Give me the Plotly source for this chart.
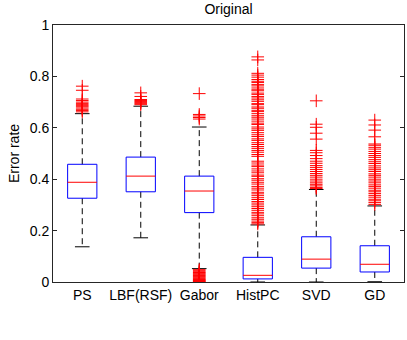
import plotly.graph_objects as go

LABELS = ["PS", "LBF(RSF)", "Gabor", "HistPC", "SVD", "GD"]
Q1 = [0.326, 0.351, 0.270, 0.012, 0.054, 0.039]
MEDIAN = [0.388, 0.412, 0.354, 0.026, 0.089, 0.069]
Q3 = [0.458, 0.486, 0.412, 0.096, 0.176, 0.141]
LOWER = [0.137, 0.172, 0.052, 0.0, 0.0, 0.001]
UPPER = [0.655, 0.684, 0.603, 0.222, 0.360, 0.296]

OUT_PS = [0.762, 0.746, 0.712, 0.706, 0.700, 0.695, 0.690, 0.686, 0.682, 0.677, 0.672, 0.667, 0.662]
OUT_LBF = [0.736, 0.722, 0.710, 0.706, 0.702, 0.698, 0.694, 0.690]
OUT_GABOR = [0.733, 0.652, 0.646, 0.640, 0.634,
             0.048, 0.044, 0.040, 0.037, 0.034, 0.031, 0.028, 0.025, 0.022,
             0.019, 0.016, 0.013, 0.010, 0.008, 0.006, 0.004, 0.002, 0.0]
OUT_HISTPC = [0.876, 0.864, 0.812, 0.805, 0.797, 0.788, 0.781, 0.776, 0.768, 0.763,
              0.755, 0.748, 0.744, 0.735, 0.730, 0.722, 0.716, 0.709, 0.703, 0.694,
              0.690, 0.681, 0.676, 0.668, 0.663, 0.655, 0.647, 0.641, 0.634, 0.626,
              0.618, 0.613, 0.603, 0.596, 0.590, 0.581, 0.573, 0.566, 0.557, 0.551,
              0.542, 0.535, 0.527, 0.520, 0.512, 0.505, 0.496, 0.489, 0.470, 0.463,
              0.455, 0.449, 0.440, 0.432, 0.425, 0.416, 0.411, 0.402, 0.396, 0.388,
              0.381, 0.372, 0.365, 0.358, 0.349, 0.343, 0.336, 0.328, 0.321, 0.313,
              0.307, 0.300, 0.293, 0.286, 0.279, 0.271, 0.265, 0.258, 0.250, 0.244,
              0.237, 0.231, 0.226]
OUT_SVD = [0.705, 0.614, 0.602, 0.579, 0.556, 0.512, 0.503, 0.492, 0.480, 0.470,
           0.462, 0.453, 0.446, 0.438, 0.430, 0.422, 0.415, 0.408, 0.400, 0.393,
           0.386, 0.380, 0.374, 0.368, 0.364]
OUT_GD = [0.630, 0.611, 0.591, 0.565, 0.537, 0.532, 0.524, 0.517, 0.508, 0.500,
          0.492, 0.485, 0.476, 0.468, 0.461, 0.452, 0.444, 0.437, 0.430, 0.421,
          0.415, 0.408, 0.400, 0.393, 0.386, 0.378, 0.372, 0.365, 0.357, 0.351,
          0.344, 0.337, 0.330, 0.322, 0.316, 0.309, 0.302]
OUTLIERS = [OUT_PS, OUT_LBF, OUT_GABOR, OUT_HISTPC, OUT_SVD, OUT_GD]

FONT = "Liberation Sans, Arial, sans-serif"
HALF = 0.25   # half box width
CAP = 0.125   # half whisker cap width

fig = go.Figure()

box_x, box_y, med_x, med_y = [], [], [], []
wh_x, wh_y, cap_x, cap_y = [], [], [], []
out_x, out_y = [], []
for i in range(len(LABELS)):
    x = i + 1
    box_x += [x - HALF, x + HALF, x + HALF, x - HALF, x - HALF, None]
    box_y += [Q1[i], Q1[i], Q3[i], Q3[i], Q1[i], None]
    med_x += [x - HALF, x + HALF, None]
    med_y += [MEDIAN[i], MEDIAN[i], None]
    wh_x += [x, x, None, x, x, None]
    wh_y += [Q3[i], UPPER[i], None, Q1[i], LOWER[i], None]
    cap_x += [x - CAP, x + CAP, None, x - CAP, x + CAP, None]
    cap_y += [UPPER[i], UPPER[i], None, LOWER[i], LOWER[i], None]
    out_x += [x] * len(OUTLIERS[i])
    out_y += OUTLIERS[i]

fig.add_trace(go.Scatter(x=wh_x, y=wh_y, mode="lines",
                         line=dict(color="black", width=1, dash="6px,4px")))
fig.add_trace(go.Scatter(x=cap_x, y=cap_y, mode="lines",
                         line=dict(color="black", width=1)))
fig.add_trace(go.Scatter(x=box_x, y=box_y, mode="lines",
                         line=dict(color="rgb(0,0,255)", width=1)))
fig.add_trace(go.Scatter(x=med_x, y=med_y, mode="lines",
                         line=dict(color="red", width=1)))
fig.add_trace(go.Scatter(x=out_x, y=out_y, mode="markers",
                         marker=dict(symbol="cross-thin", size=9,
                                     line=dict(color="red", width=1))))

fig.update_xaxes(range=[0.5, 6.5], tickvals=list(range(1, 7)), ticktext=LABELS,
                 showline=True, mirror=True, linecolor="#262626", linewidth=1,
                 ticks="", showgrid=False, zeroline=False, automargin=False,
                 tickfont=dict(family=FONT, size=14, color="black"))
fig.update_yaxes(range=[0, 1], tickvals=[0, 0.2, 0.4, 0.6, 0.8, 1],
                 ticktext=["0", "0.2", "0.4", "0.6", "0.8", "1"],
                 showline=True, mirror="allticks", linecolor="#262626", linewidth=1,
                 ticks="inside", ticklen=4, tickcolor="#262626",
                 showgrid=False, zeroline=False, automargin=False,
                 title=dict(text="Error rate", font=dict(family=FONT, size=14, color="black"),
                            standoff=6),
                 tickfont=dict(family=FONT, size=14, color="black"))
fig.update_layout(
    width=407, height=340,
    margin=dict(l=53, r=3, t=25, b=58, autoexpand=False),
    plot_bgcolor="white", paper_bgcolor="white",
    showlegend=False,
    title=dict(text="Original", x=0.5, xanchor="center", y=0.972, yanchor="middle",
               xref="paper", font=dict(family=FONT, size=14, color="black")),
)

# the page's default body margin would push the chart off by 8px
fig.write_html("out.html", config={"displayModeBar": False},
               post_script="document.body.style.margin='0';")
